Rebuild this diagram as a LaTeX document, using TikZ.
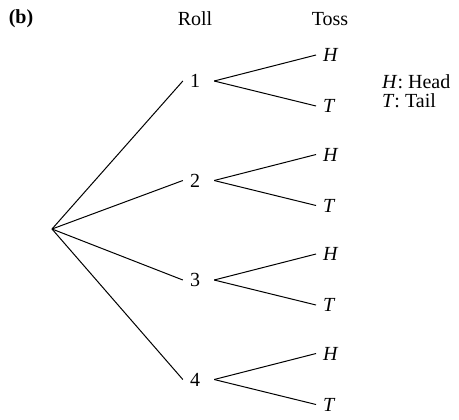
\documentclass[tikz,border=0pt]{standalone}
\usepackage{fontspec}
\setmainfont{Liberation Serif}
\usepackage{tikz}
\usetikzlibrary{calc}

\begin{document}
\begin{tikzpicture}[x=0.5pt, y=-0.5pt, line width=0.5pt]
\useasboundingbox (0,0) rectangle (459,419);
\node (lbl) at (21,19) {\textbf{(b)}};
\node (roll) at (195,19) {Roll};
\node (toss) at (330,19) {Toss};
\coordinate (root) at (52,229);
\foreach \i in {1,...,4}{
  \pgfmathsetmacro{\yy}{81+99.5*(\i-1)}
  \node (r\i) at (195,\yy) {\i};
  \node[anchor=west] (h\i) at (316,\yy-26) {\textit{H}};
  \node[anchor=west] (t\i) at (316,\yy+25) {\textit{T}};
  \draw (root) -- (r\i.west);
  \draw ([xshift=3.5pt]r\i.east) -- (h\i.west);
  \draw ([xshift=3.5pt]r\i.east) -- (t\i.west);
}
\node[anchor=west] (lh) at (375,82) {\textit{H}: Head};
\node[anchor=west] (lt) at (375,101) {\textit{T}: Tail};
\end{tikzpicture}
\end{document}
